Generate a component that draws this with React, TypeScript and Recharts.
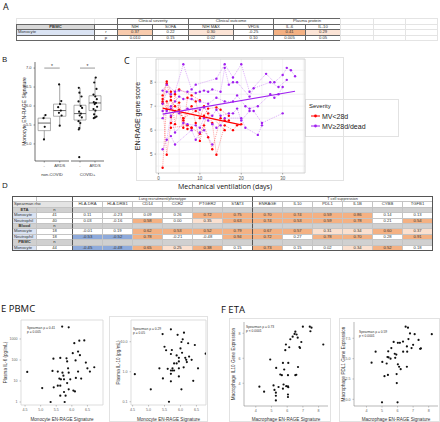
import React from 'react';
import { ScatterChart, Scatter, XAxis, YAxis, CartesianGrid, ReferenceArea, ReferenceLine } from 'recharts';

const SANS = '"Liberation Sans", Arial, sans-serif';
const HEAD = '"Open Sans", "Liberation Sans", sans-serif';

// ---- A: clinical correlations ----
const aGroups = ['Clinical severity', 'Clinical outcome', 'Plasma protein'];
const aMeasures = ['NIH', 'SOFA', 'NIH MAX', 'VFDS', 'IL-6', 'IL-10'];
const aRho = [0.37, 0.22, 0.3, -0.25, 0.41, 0.29];
const aP = ['0.010', '0.15', '0.02', '0.10', '0.005', '0.05'];
const aColWidths = [78, 23, 35, 36, 45, 40, 32, 35, 33, 32, 32];

// ---- B: box plots ----
const bLevels = ['-', 'ARDS'];
const bNonCovidBoxes = [
  { pos: 1, lo: 5.12, q1: 5.35, med: 5.55, q3: 5.68, hi: 5.77 },
  { pos: 2, lo: 5.48, q1: 5.73, med: 5.88, q3: 6.05, hi: 6.57 },
];
const bCovidBoxes = [
  { pos: 1, lo: 5.38, q1: 5.63, med: 5.8, q3: 6.02, hi: 6.48 },
  { pos: 2, lo: 5.68, q1: 5.88, med: 6.08, q3: 6.27, hi: 6.75 },
];
const bNonCovidPts = [
  [1.08, 5.76], [0.95, 5.68], [1.03, 5.45], [0.98, 5.12],
  [1.96, 6.57], [2.1, 6.13], [2.02, 6.05], [1.9, 5.97], [2.07, 5.88], [1.95, 5.82], [2.12, 5.75], [2.0, 5.48],
];
const bCovidPts = [
  [0.92, 6.48], [0.96, 6.35], [1.1, 6.25], [0.9, 6.12], [1.05, 6.0], [1.14, 5.95], [0.94, 5.85], [1.06, 5.8],
  [0.98, 5.75], [1.12, 5.7], [0.9, 5.6], [1.02, 5.55], [0.95, 5.42], [0.92, 5.38], [0.95, 4.65],
  [2.05, 6.75], [1.95, 6.62], [2.1, 6.45], [1.9, 6.3], [2.02, 6.25], [2.12, 6.18], [1.92, 6.1], [2.06, 6.08],
  [1.98, 6.05], [2.14, 5.98], [1.9, 5.92], [2.03, 5.88], [1.94, 5.78], [2.1, 5.72], [2.0, 5.7], [1.92, 5.68],
];

// ---- C: EN-RAGE score over ventilation days, one list per patient [day, score] ----
const severityLevels = ['MV<28d', 'MV\u226528d/dead'];
const severityColors = ['#ff0000', '#a020f0'];
const redPatients = [
  [[1, 7.45], [2, 8.03], [3, 7.6], [5, 7.7], [8, 7.45], [10, 7.25]],
  [[1, 7.2], [2, 7.95], [3, 7.25], [4, 7.0], [6, 6.5], [9, 6.8], [11, 6.6], [12, 6.9], [14, 6.95], [15, 6.85], [17, 6.6]],
  [[1, 4.43], [2, 7.2], [3, 6.55], [4, 6.8], [5, 6.85], [7, 6.05], [8, 6.1]],
  [[1, 7.12], [2, 4.97], [3, 6.3], [4, 7.5], [6, 6.1], [7, 7.35], [9, 7.2], [10, 6.5], [11, 7.0], [13, 6.3], [14, 4.97], [16, 6.2], [18, 6.0], [19, 6.2], [20, 6.25]],
  [[1, 7.3], [2, 6.85], [3, 7.4], [4, 6.25], [5, 7.15], [6, 6.4], [8, 7.0], [9, 6.3], [10, 5.55], [11, 6.2], [12, 5.7], [13, 5.2], [15, 6.5], [16, 6.4], [17, 6.4]],
  [[3, 6.1], [7, 6.2], [8, 6.1], [10, 5.85], [12, 6.7], [16, 6.0]],
];
const purplePatients = [
  [[1, 7.65], [2, 7.9], [4, 7.6], [6, 8.75], [8, 7.7], [9, 7.9], [14, 8.15], [16, 8.75], [18, 8.2], [20, 8.75], [22, 7.6], [26, 8.35], [28, 8.0], [30, 8.3], [31, 8.6], [32, 8.5], [33, 8.25]],
  [[1, 7.1], [2, 7.6], [3, 7.5], [5, 7.65], [7, 7.6], [9, 7.55], [10, 7.6], [11, 7.65], [12, 7.6], [13, 7.7], [15, 7.6], [16, 8.6], [17, 7.9], [18, 8.0], [19, 8.0], [22, 7.4], [23, 7.75], [27, 8.0], [29, 7.8], [31, 8.1]],
  [[1, 6.5], [2, 6.8], [3, 7.0], [4, 7.2], [5, 7.4], [6, 7.3], [8, 7.3], [10, 7.2], [12, 7.1], [14, 7.35], [16, 7.2], [18, 7.2], [19, 7.45], [21, 7.0], [22, 6.9], [24, 7.0], [27, 7.5], [28, 7.35], [29, 7.5], [30, 7.8]],
  [[1, 6.8], [3, 6.9], [5, 6.7], [7, 6.9], [10, 6.85], [11, 6.95], [13, 6.6], [14, 6.85], [15, 6.6], [17, 6.7], [18, 6.7], [19, 6.9], [20, 6.4], [22, 6.8], [23, 6.8], [25, 6.3], [30, 6.7]],
  [[1, 5.2], [2, 5.6], [3, 6.6], [4, 5.9], [6, 6.3], [7, 6.25], [9, 6.2], [10, 6.1], [11, 6.5], [12, 6.4], [13, 6.25], [14, 6.1], [15, 6.2], [16, 6.5], [20, 6.5], [21, 6.1], [24, 5.8], [25, 6.2]],
  [[3, 5.75], [4, 5.4], [8, 6.0], [9, 5.6], [10, 5.9], [11, 6.0], [13, 5.4]],
];
const redFit = [[1, 6.92], [20, 6.22]];
const purpleFit = [[1, 6.67], [33, 7.62]];

// ---- D: spearman rho table ----
const dGroups = ['Lung recruitment/phenotype', 'T cell suppression'];
const dGenes = ['HLA.DRA', 'HLA.DRB1', 'CD14', 'CCR2', 'PTGER2', 'STAT3', 'ENRAGE', 'IL10', 'PDL1', 'IL1B', 'CYBB', 'TGFB1'];
const etaMonocyte = [0.11, -0.23, 0.09, 0.26, 0.72, 0.75, 0.7, 0.74, 0.59, 0.86, 0.14, 0.13];
const etaNeutrophil = [0.03, -0.16, 0.58, 0.0, 0.35, 0.63, 0.74, 0.53, 0.59, 0.78, 0.21, 0.54];
const bloodMonocyte = [-0.01, 0.19, 0.62, 0.53, 0.52, 0.79, 0.67, 0.57, 0.31, 0.34, 0.6, 0.37];
const bloodNeutrophil = [-0.53, -0.52, 0.78, -0.21, -0.48, 0.94, 0.72, 0.27, 0.78, 0.7, 0.28, 0.91];
const pbmcMonocyte = [-0.45, -0.48, 0.65, 0.25, 0.38, 0.15, 0.73, 0.15, 0.02, 0.34, 0.52, 0.18];
const dSections = [
  { name: 'ETA', rows: [{ cell: 'Monocyte', n: 41, rho: etaMonocyte }, { cell: 'Neutrophil', n: 40, rho: etaNeutrophil }] },
  { name: 'Blood', rows: [{ cell: 'Monocyte', n: 18, rho: bloodMonocyte }, { cell: 'Neutrophil', n: 18, rho: bloodNeutrophil }] },
  { name: 'PBMC', rows: [{ cell: 'Monocyte', n: 44, rho: pbmcMonocyte }] },
];

// ---- E / F: scatter plots [EN-RAGE signature, value] ----
const ePbmcIl6 = [
  [5.69, 3900], [5.9, 3600], [6.08, 630], [6.24, 830], [6.4, 850], [6.03, 210], [6.2, 250], [6.26, 170],
  [5.41, 115], [5.63, 125], [5.83, 120], [5.85, 85], [6.12, 95], [6.45, 75], [6.72, 45], [6.5, 40], [6.58, 28],
  [4.57, 27], [5.38, 30], [5.55, 28], [5.7, 25], [5.73, 18], [5.9, 25], [5.95, 12], [5.6, 13], [5.75, 12],
  [5.65, 12], [5.55, 6], [5.63, 6], [5.85, 8], [6.13, 14], [6.3, 13], [5.42, 5], [5.9, 4], [6.05, 3.5],
  [6.1, 3.2], [5.05, 4.6], [5.63, 2], [5.8, 2], [5.75, 3], [5.32, 1], [5.77, 1], [6.2, 28], [5.88, 40],
];
const ePbmcIl10 = [
  [5.7, 26], [5.44, 18], [5.91, 17], [6.11, 20], [6.07, 12], [6.03, 9.8], [5.5, 6.8], [5.55, 5.2], [5.73, 5.3],
  [6.24, 8.9], [6.45, 7.8], [5.7, 3.9], [5.88, 3.5], [5.95, 2.9], [6.27, 3.2], [6.18, 2.5], [6.15, 2.9],
  [6.05, 4.3], [6.79, 4.0], [5.95, 2.2], [6.35, 2.5], [5.8, 1.9], [5.88, 1.9], [5.75, 1.3], [5.95, 1.3],
  [5.34, 1.3], [6.1, 1.4], [5.7, 1.1], [5.75, 1.1], [5.8, 1.1], [5.6, 1.25], [6.55, 1.3], [4.57, 0.83],
  [5.7, 0.85], [5.95, 0.7], [5.45, 0.6], [5.7, 0.48], [6.4, 0.5], [5.07, 0.26], [6.03, 0.26], [5.64, 0.1],
  [6.2, 2.1], [6.0, 6.0],
];
const fEtaIl10 = [
  [7.0, 8.53], [7.44, 8.53], [7.55, 8.45], [7.48, 8.16], [6.52, 8.13], [6.47, 7.95], [6.6, 7.9], [6.35, 7.73],
  [6.67, 7.65], [6.9, 7.3], [6.2, 7.52], [6.78, 6.9], [6.82, 6.82], [5.92, 7.1], [5.88, 6.65], [6.13, 6.88],
  [8.3, 7.1], [4.92, 5.9], [5.73, 5.63], [6.07, 5.63], [5.3, 5.23], [5.81, 5.1], [6.69, 5.3], [5.56, 4.7],
  [5.66, 4.65], [6.05, 4.65], [6.52, 4.65], [6.58, 4.68], [5.13, 3.83], [5.77, 3.9], [5.94, 3.77], [6.05, 3.75],
  [6.07, 3.68], [5.45, 3.7], [4.23, 3.73], [4.53, 3.33], [5.19, 3.47], [5.28, 3.25], [5.73, 3.57], [5.28, 3.0],
  [6.05, 3.1], [6.05, 2.9], [5.28, 2.63],
];
const fEtaPdl1 = [
  [6.52, 8.93], [6.67, 8.8], [6.8, 8.1], [7.1, 8.0], [8.2, 8.0], [7.35, 7.3], [6.7, 7.4], [6.35, 7.1],
  [5.75, 7.05], [6.02, 6.94], [6.15, 6.94], [7.0, 6.7], [6.9, 6.3], [7.45, 6.2], [7.5, 6.25], [6.6, 6.5],
  [6.36, 5.85], [6.62, 5.85], [5.6, 6.3], [4.59, 5.85], [4.33, 4.5], [5.4, 5.9], [5.35, 5.2], [5.42, 5.15],
  [5.55, 5.0], [5.82, 5.6], [5.92, 5.5], [5.85, 5.1], [6.02, 4.3], [6.1, 4.0], [6.2, 3.7], [5.94, 3.1],
  [5.38, 3.0], [5.16, 2.85], [6.6, 4.0], [5.95, 2.0], [5.0, -0.37], [6.0, -0.37], [5.02, 4.6], [5.3, 4.4],
];

const toXY = (pts: number[][]) => pts.map(([x, y]) => ({ x, y }));
const toDay = (pts: number[][]) => pts.map(([day, score]) => ({ day, score }));

const dot = (color: string, r = 1.1) => (props: any) =>
  props.cx == null ? <g /> : <circle cx={props.cx} cy={props.cy} r={r} fill={color} />;
const noDot = () => <g />;

function aColor(v: number) {
  if (v >= 0.4) return '#f4b183';
  if (v >= 0.35) return '#f8cbad';
  if (v >= 0.28) return '#fce4d6';
  return '#fff';
}

function dColor(v: number, n: number) {
  const strong = n >= 44 ? 0.38 : 0.5;
  const light = n >= 44 ? 0.25 : 0.3;
  const neg = n >= 44 ? -0.4 : -0.5;
  if (v >= strong) return '#f4b183';
  if (v >= light) return '#fbe0cf';
  if (v <= neg) return '#8eaadb';
  return '#fff';
}

type Cell = { text?: string | number; span?: number; bg?: string; bold?: boolean; left?: boolean; line?: string; sep?: boolean; size?: number };

// spreadsheet-like grid of absolutely placed cells
function GridTable({ x, y, rowH, colW, rows, sepColor }: { x: number; y: number; rowH: number; colW: number[]; rows: Cell[][]; sepColor: string }) {
  const xs = [0];
  colW.forEach((w) => xs.push(xs[xs.length - 1] + w));
  return (
    <div style={{ position: 'absolute', left: x, top: y, fontFamily: SANS }}>
      {rows.map((r, ri) => {
        let c = 0;
        return r.map((cell, k) => {
          const start = c;
          c += cell.span ?? 1;
          const line = cell.line ?? '#c4c4c4';
          return (
            <div key={ri + '-' + k} style={{
              position: 'absolute', left: xs[start], top: ri * rowH, width: xs[c] - xs[start] + 1, height: rowH + 1,
              boxSizing: 'border-box', border: `1px solid ${line}`, borderLeft: cell.sep ? `1px solid ${sepColor}` : `1px solid ${line}`,
              background: cell.bg ?? 'transparent', fontSize: cell.size ?? 4.2, lineHeight: `${rowH - 1}px`,
              textAlign: cell.left ? 'left' : 'center', paddingLeft: cell.left ? 1 : 0, fontWeight: cell.bold ? 'bold' : 'normal',
              whiteSpace: 'nowrap', overflow: 'hidden', color: '#333',
            }}>{cell.text}</div>
          );
        });
      })}
    </div>
  );
}

function TableA() {
  const dark = '#666';
  const faint = '#e4e4e4';
  const tail = [0, 1, 2].map(() => ({ line: faint }));
  const rows: Cell[][] = [
    [{ line: faint }, { line: faint }, ...aGroups.map((g) => ({ text: g, span: 2, line: dark })), ...tail],
    [{ text: 'PBMC', bg: '#d9d9d9', bold: true, line: dark }, { line: dark }, ...aMeasures.map((m) => ({ text: m, line: dark })), ...tail],
    [{ text: 'Monocyte', bg: '#dae3f3', left: true, line: dark }, { text: 'r', line: dark }, ...aRho.map((v) => ({ text: v.toFixed(2), bg: aColor(v), line: dark })), ...tail],
    [{ line: dark }, { text: 'p', line: dark }, ...aP.map((v) => ({ text: v, line: dark })), ...tail],
  ];
  return <GridTable x={16} y={18} rowH={5.5} colW={aColWidths} rows={rows} sepColor={dark} />;
}

function TableD() {
  const gray = '#d0d0d0';
  const sep = (i: number) => i === 0 || i === 6;
  const rows: Cell[][] = [
    [{}, {}, ...dGroups.map((g, i) => ({ text: g, span: 6, line: '#666', sep: true, size: 3.8 }))],
    [{ text: 'Spearman rho', span: 2, bg: '#e4e4e4', left: true }, ...dGenes.map((g, i) => ({ text: g, sep: sep(i) }))],
  ];
  dSections.forEach((s) => {
    rows.push([{ text: s.name, bg: gray, bold: true }, { text: 'n', bg: gray }, ...dGenes.map((g, i) => ({ bg: gray, sep: sep(i) }))]);
    s.rows.forEach((r) => {
      rows.push([
        { text: r.cell, bg: '#dae3f3', left: true },
        { text: r.n },
        ...r.rho.map((v, i) => ({ text: v.toFixed(2), bg: dColor(v, r.n), sep: sep(i) })),
      ]);
    });
  });
  return (
    <>
      <GridTable x={12} y={196} rowH={5.4} colW={[24, 36, ...dGenes.map(() => 30)]} rows={rows} sepColor="#555" />
      <div style={{ position: 'absolute', left: 12, top: 196, width: 421, height: 55, border: '1px solid #555', boxSizing: 'border-box' }} />
    </>
  );
}

function BoxFacet({ left, width, showY, boxes, points, facet }: any) {
  return (
    <div style={{ position: 'absolute', left, top: 56 }}>
      <ScatterChart width={width} height={121} margin={{ top: 6, right: 1, bottom: 0, left: showY ? 0 : 1 }}>
        <XAxis
          type="number" dataKey="x" domain={[0.4, 2.6]} ticks={[1, 2]} interval={0} height={16}
          tickFormatter={(v: number) => bLevels[v - 1]} tick={{ fontSize: 4, fill: '#444' }} tickSize={1.5}
          axisLine={{ stroke: '#333', strokeWidth: 0.7 }} tickLine={{ stroke: '#333', strokeWidth: 0.5 }}
          label={{ value: facet, position: 'insideBottom', offset: 1, fontSize: 4.2, fill: '#333' }}
        />
        <YAxis
          type="number" dataKey="y" domain={[4.55, 7.16]} ticks={[5, 5.5, 6, 6.5, 7]} interval={0} hide={!showY} width={25}
          tickFormatter={(v: number) => v.toFixed(1)} tick={{ fontSize: 4, fill: '#444' }} tickSize={1.5}
          axisLine={{ stroke: '#333', strokeWidth: 0.7 }} tickLine={{ stroke: '#333', strokeWidth: 0.5 }}
          label={{ value: 'Monocyte EN-RAGE Signature', angle: -90, position: 'insideLeft', offset: 14, fontSize: 5, fill: '#222', style: { textAnchor: 'middle' } }}
        />
        {boxes.map((b: any) => (
          <ReferenceLine key={'lo' + b.pos} segment={[{ x: b.pos, y: b.lo }, { x: b.pos, y: b.q1 }]} stroke="#666" strokeWidth={0.6} />
        ))}
        {boxes.map((b: any) => (
          <ReferenceLine key={'hi' + b.pos} segment={[{ x: b.pos, y: b.q3 }, { x: b.pos, y: b.hi }]} stroke="#666" strokeWidth={0.6} />
        ))}
        {boxes.map((b: any) => (
          <ReferenceArea key={'box' + b.pos} x1={b.pos - 0.4} x2={b.pos + 0.4} y1={b.q1} y2={b.q3} fill="#fff" fillOpacity={1} stroke="#777" strokeWidth={0.6} />
        ))}
        {boxes.map((b: any) => (
          <ReferenceLine key={'med' + b.pos} segment={[{ x: b.pos - 0.4, y: b.med }, { x: b.pos + 0.4, y: b.med }]} stroke="#555" strokeWidth={0.9} />
        ))}
        <ReferenceLine segment={[{ x: 1, y: 7 }, { x: 2, y: 7 }]} stroke="#555" strokeWidth={0.6}
          label={{ value: '*', position: 'top', fontSize: 5, fill: '#333', offset: 0 }} />
        <Scatter data={toXY(points)} shape={dot('#111', 1.1)} isAnimationActive={false} />
      </ScatterChart>
    </div>
  );
}

function SeverityPanel() {
  const seriesProps = (color: string) => ({
    fill: color,
    line: { stroke: color, strokeWidth: 0.5, strokeDasharray: '1 1', strokeOpacity: 0.75 },
    lineType: 'joint' as const,
    shape: dot(color, 1.2),
    isAnimationActive: false,
  });
  return (
    <div style={{ position: 'absolute', left: 130, top: 55 }}>
      <ScatterChart width={180} height={127} margin={{ top: 4, right: 5, bottom: 0, left: 0 }}>
        <CartesianGrid stroke="#ebebeb" strokeWidth={0.6}
          horizontalValues={[4.5, 5, 5.5, 6, 6.5, 7, 7.5, 8, 8.5]}
          verticalValues={[0, 5, 10, 15, 20, 25, 30, 35]} />
        <ReferenceArea x1={-0.6} x2={35.4} y1={4.21} y2={8.97} fill="none" stroke="#c8c8c8" strokeWidth={0.8} />
        <XAxis type="number" dataKey="day" domain={[-0.6, 35.4]} ticks={[0, 10, 20, 30]} interval={0} height={9}
          tick={{ fontSize: 4.5, fill: '#555' }} tickSize={1.5} axisLine={false} tickLine={{ stroke: '#555', strokeWidth: 0.5 }} />
        <YAxis type="number" dataKey="score" domain={[4.21, 8.97]} ticks={[5, 6, 7, 8]} interval={0} width={26}
          tick={{ fontSize: 4.5, fill: '#555' }} tickSize={1.5} axisLine={false} tickLine={{ stroke: '#555', strokeWidth: 0.5 }}
          label={{ value: 'EN-RAGE gene score', angle: -90, position: 'insideLeft', offset: 8, fontSize: 7, fill: '#222', style: { textAnchor: 'middle' } }} />
        {redPatients.map((p, i) => <Scatter key={'r' + i} data={toDay(p)} {...seriesProps(severityColors[0])} />)}
        {purplePatients.map((p, i) => <Scatter key={'p' + i} data={toDay(p)} {...seriesProps(severityColors[1])} />)}
        <Scatter data={toDay(redFit)} fill={severityColors[0]} line={{ stroke: severityColors[0], strokeWidth: 1.1 }} shape={noDot} isAnimationActive={false} />
        <Scatter data={toDay(purpleFit)} fill={severityColors[1]} line={{ stroke: severityColors[1], strokeWidth: 1.1 }} shape={noDot} isAnimationActive={false} />
      </ScatterChart>
    </div>
  );
}

function SeverityLegend() {
  return (
    <div style={{ position: 'absolute', left: 309, top: 102, fontFamily: SANS, color: '#222' }}>
      <div style={{ fontSize: 6, height: 9, lineHeight: '9px' }}>Severity</div>
      {severityLevels.map((s, i) => (
        <div key={s} style={{ display: 'flex', alignItems: 'center', height: 10 }}>
          <svg width={13} height={6}>
            <line x1={2} y1={3} x2={11} y2={3} stroke={severityColors[i]} strokeWidth={1} />
            <circle cx={6.5} cy={3} r={1.4} fill={severityColors[i]} />
          </svg>
          <span style={{ fontSize: 7 }}>{s}</span>
        </div>
      ))}
    </div>
  );
}

function ScatterPanel(p: any) {
  return (
    <div style={{ position: 'absolute', left: p.left, top: p.top }}>
      <ScatterChart width={p.width} height={p.height} margin={{ top: 4, right: p.right, bottom: 0, left: 0 }}>
        {p.boxed && (
          <ReferenceArea x1={p.xDomain[0]} x2={p.xDomain[1]} y1={p.yDomain[0]} y2={p.yDomain[1]} fill="none" stroke="#d4d4d4" strokeWidth={0.8} />
        )}
        <XAxis type="number" dataKey="x" domain={p.xDomain} ticks={p.xTicks} interval={0} allowDataOverflow height={p.xHeight}
          tickFormatter={p.xFmt} tick={{ fontSize: 3.6, fill: '#666' }} tickSize={1.5}
          axisLine={p.boxed ? false : { stroke: '#888', strokeWidth: 0.6 }} tickLine={{ stroke: '#888', strokeWidth: 0.5 }}
          label={{ value: p.xTitle, position: 'insideBottom', offset: 1, fontSize: 4.6, fill: '#333' }} />
        <YAxis type="number" dataKey="y" scale={p.log ? 'log' : 'auto'} domain={p.yDomain} ticks={p.yTicks} interval={0} allowDataOverflow width={p.yWidth}
          tickFormatter={p.yFmt} tick={{ fontSize: 3.6, fill: '#666' }} tickSize={1.5}
          axisLine={p.boxed ? false : { stroke: '#888', strokeWidth: 0.6 }} tickLine={{ stroke: '#888', strokeWidth: 0.5 }}
          label={{ value: p.yTitle, angle: -90, position: 'insideLeft', offset: p.yTitleOffset, fontSize: 4.6, fill: '#333', style: { textAnchor: 'middle' } }} />
        <Scatter data={toXY(p.data)} shape={dot('#111', 1.1)} isAnimationActive={false} />
      </ScatterChart>
      <div style={{ position: 'absolute', left: p.statX, top: p.statY, fontFamily: SANS, fontSize: 3.3, lineHeight: '4.2px', color: '#333', whiteSpace: 'nowrap' }}>
        <div>{p.stat[0]}</div>
        <div>{p.stat[1]}</div>
      </div>
    </div>
  );
}

const frame = (left: number, top: number, width: number, height: number) => (
  <div style={{ position: 'absolute', left, top, width, height, border: '1px solid #e2e2e2', boxSizing: 'border-box' }} />
);

const heading = (text: string, left: number, top: number, size = 9) => (
  <div style={{ position: 'absolute', left, top, fontFamily: HEAD, fontSize: size, lineHeight: `${size + 2}px`, color: '#111', whiteSpace: 'nowrap' }}>{text}</div>
);

export default function App() {
  const one = (v: number) => v.toFixed(1);
  return (
    <div style={{ position: 'absolute', left: 0, top: 0, width: 440, height: 422, background: '#fff', overflow: 'hidden', fontFamily: SANS }}>
      {heading('A', 3, 1)}
      <TableA />

      {heading('B', 2, 54, 8)}
      <BoxFacet left={10} width={60} showY boxes={bNonCovidBoxes} points={bNonCovidPts} facet="non-COVID" />
      <BoxFacet left={70} width={35} showY={false} boxes={bCovidBoxes} points={bCovidPts} facet="COVID+" />

      {frame(136, 57, 208, 124)}
      {frame(305, 99, 94, 38)}
      {heading('C', 124, 55)}
      <SeverityPanel />
      <SeverityLegend />
      <div style={{ position: 'absolute', left: 178, top: 182, fontFamily: HEAD, fontSize: 7, lineHeight: '9px', color: '#111', whiteSpace: 'nowrap' }}>
        Mechanical ventilation (days)
      </div>

      {heading('D', 2, 180, 8)}
      <TableD />

      {heading('E PBMC', 1, 303, 9.5)}
      <ScatterPanel left={0} top={316} width={106} height={106} right={3} yWidth={21} xHeight={17} boxed
        data={ePbmcIl6} xDomain={[4.37, 7.0]} xTicks={[4.5, 5, 5.5, 6, 6.5]} xFmt={one}
        log yDomain={[0.72, 8000]} yTicks={[1, 10, 100, 1000]} yFmt={(v: number) => String(v)}
        xTitle="Monocyte EN-RAGE Signature" yTitle="Plasma IL-6 (pg/mL)" yTitleOffset={5}
        statX={27} statY={10} stat={['Spearman \u03c1 = 0.41', 'p = 0.005']} />
      {frame(109, 316, 99, 106)}
      <ScatterPanel left={109} top={316} width={100} height={106} right={3} yWidth={22} xHeight={17} boxed
        data={ePbmcIl10} xDomain={[4.45, 6.8]} xTicks={[4.5, 5, 5.5, 6, 6.5]} xFmt={one}
        log yDomain={[0.078, 53]} yTicks={[0.1, 1, 10]} yFmt={(v: number) => (v >= 1 ? v.toFixed(1) : String(v))}
        xTitle="Monocyte EN-RAGE Signature" yTitle="Plasma IL-10 (pg/mL)" yTitleOffset={9}
        statX={24} statY={11} stat={['Spearman \u03c1 = 0.29', 'p = 0.05']} />

      {heading('F ETA', 221, 304, 9.5)}
      {frame(229, 318, 102, 104)}
      <ScatterPanel left={229} top={318} width={102} height={104} right={3} yWidth={15} xHeight={16}
        data={fEtaIl10} xDomain={[3.25, 8.6]} xTicks={[4, 5, 6, 7, 8]} xFmt={(v: number) => String(v)}
        yDomain={[2.18, 8.9]} yTicks={[4, 6, 8]} yFmt={(v: number) => String(v)}
        xTitle="Macrophage EN-RAGE Signature" yTitle="Macrophage IL10 Gene Expression" yTitleOffset={4}
        statX={17} statY={7} stat={['Spearman \u03c1 = 0.73', 'p < 0.0001']} />
      {frame(339, 318, 101, 104)}
      <ScatterPanel left={339} top={318} width={101} height={104} right={2} yWidth={15} xHeight={16}
        data={fEtaPdl1} xDomain={[3.2, 8.6]} xTicks={[4, 5, 6, 7, 8]} xFmt={(v: number) => String(v)}
        yDomain={[-0.82, 9.5]} yTicks={[0, 2.5, 5, 7.5]} yFmt={one}
        xTitle="Macrophage EN-RAGE Signature" yTitle="Macrophage PDL1 Gene Expression" yTitleOffset={4}
        statX={20} statY={12} stat={['Spearman \u03c1 = 0.59', 'p < 0.0001']} />
    </div>
  );
}
